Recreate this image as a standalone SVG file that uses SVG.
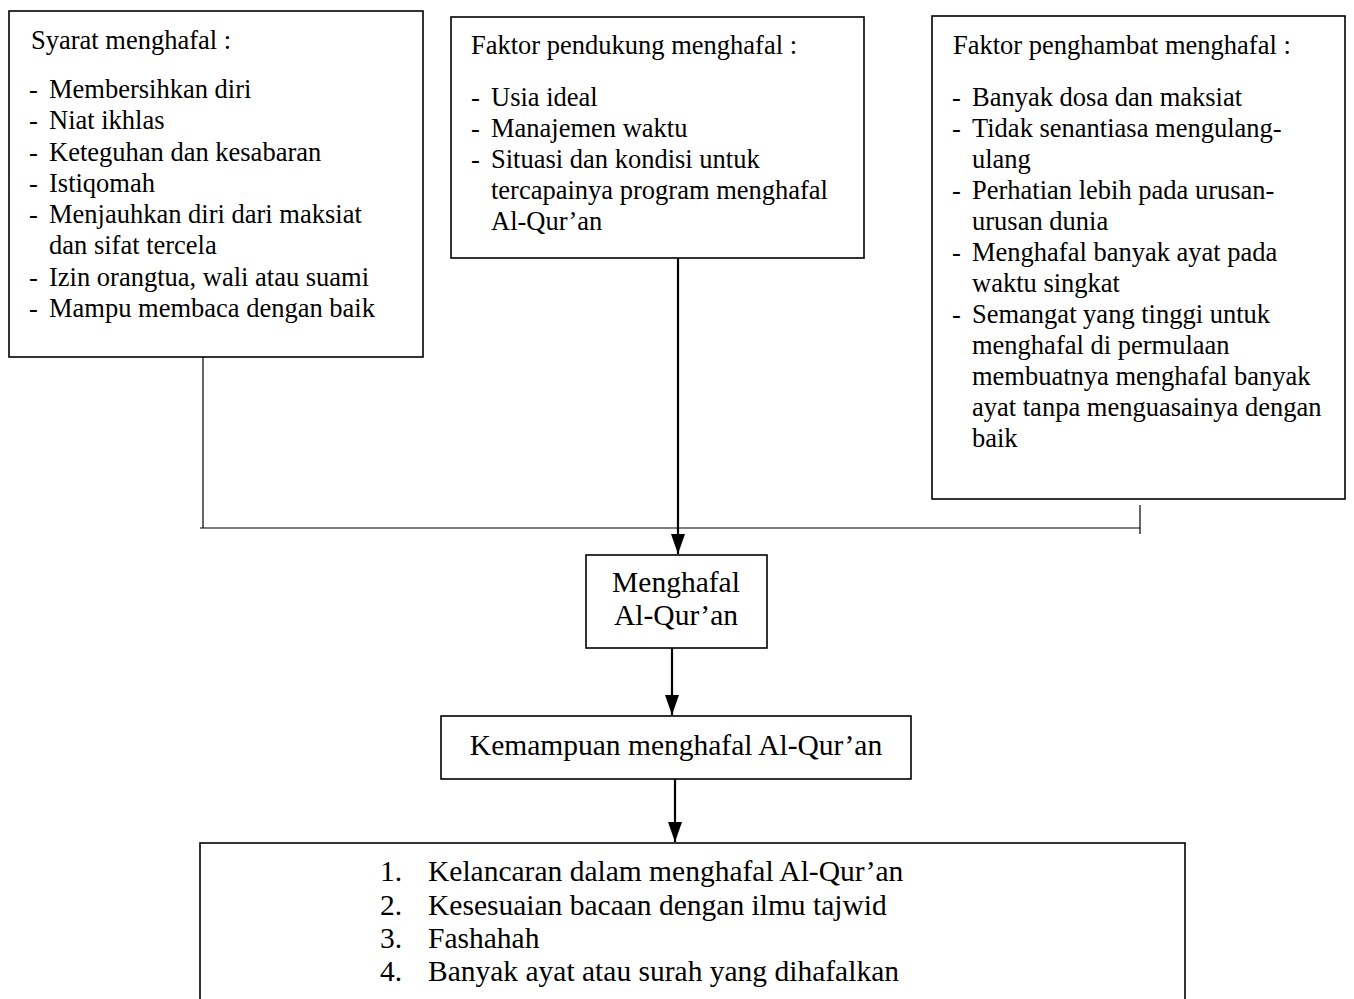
<svg xmlns="http://www.w3.org/2000/svg" width="1354" height="999" viewBox="0 0 1354 999">
<defs>
<style>
.box{fill:#fff;stroke:#000;stroke-width:1.6}
.t{font-family:"Liberation Serif","Times New Roman",serif;font-size:26.5px;fill:#000}
.tb{font-family:"Liberation Serif","Times New Roman",serif;font-size:29.5px;fill:#000}
.thin{stroke:#000;stroke-width:1.2;fill:none}
.arr{stroke:#000;stroke-width:2.2;fill:none}
</style>
<marker id="ah2" viewBox="0 0 20 14" refX="20" refY="7" markerWidth="20" markerHeight="14" orient="auto" markerUnits="userSpaceOnUse">
<path d="M0,0 L20,7 L0,14 Z" fill="#000"/>
</marker>
</defs>
<rect width="1354" height="999" fill="#fff"/>

<g id="syarat">
<rect class="box" x="9" y="11" width="414" height="346"/>
<text class="t" x="31" y="49">Syarat menghafal :</text>
<text class="t" x="29" y="98">-</text><text class="t" x="49" y="98">Membersihkan diri</text>
<text class="t" x="29" y="129">-</text><text class="t" x="49" y="129">Niat ikhlas</text>
<text class="t" x="29" y="161">-</text><text class="t" x="49" y="161">Keteguhan dan kesabaran</text>
<text class="t" x="29" y="192">-</text><text class="t" x="49" y="192">Istiqomah</text>
<text class="t" x="29" y="223">-</text><text class="t" x="49" y="223">Menjauhkan diri dari maksiat</text>
<text class="t" x="49" y="254">dan sifat tercela</text>
<text class="t" x="29" y="286">-</text><text class="t" x="49" y="286">Izin orangtua, wali atau suami</text>
<text class="t" x="29" y="317">-</text><text class="t" x="49" y="317">Mampu membaca dengan baik</text>
</g>

<g id="pendukung">
<rect class="box" x="451" y="17" width="413" height="241"/>
<text class="t" x="471" y="54">Faktor pendukung menghafal :</text>
<text class="t" x="471" y="106">-</text><text class="t" x="491" y="106">Usia ideal</text>
<text class="t" x="471" y="137">-</text><text class="t" x="491" y="137">Manajemen waktu</text>
<text class="t" x="471" y="168">-</text><text class="t" x="491" y="168">Situasi dan kondisi untuk</text>
<text class="t" x="491" y="199">tercapainya program menghafal</text>
<text class="t" x="491" y="230">Al-Qur’an</text>
</g>

<g id="penghambat">
<rect class="box" x="932" y="16" width="413" height="483"/>
<text class="t" x="953" y="54">Faktor penghambat menghafal :</text>
<text class="t" x="952" y="106">-</text><text class="t" x="972" y="106">Banyak dosa dan maksiat</text>
<text class="t" x="952" y="137">-</text><text class="t" x="972" y="137">Tidak senantiasa mengulang-</text>
<text class="t" x="972" y="168">ulang</text>
<text class="t" x="952" y="199">-</text><text class="t" x="972" y="199">Perhatian lebih pada urusan-</text>
<text class="t" x="972" y="230">urusan dunia</text>
<text class="t" x="952" y="261">-</text><text class="t" x="972" y="261">Menghafal banyak ayat pada</text>
<text class="t" x="972" y="292">waktu singkat</text>
<text class="t" x="952" y="323">-</text><text class="t" x="972" y="323">Semangat yang tinggi untuk</text>
<text class="t" x="972" y="354">menghafal di permulaan</text>
<text class="t" x="972" y="385">membuatnya menghafal banyak</text>
<text class="t" x="972" y="416">ayat tanpa menguasainya dengan</text>
<text class="t" x="972" y="447">baik</text>
</g>

<g id="menghafal">
<rect class="box" x="586" y="555" width="181" height="93"/>
<text class="tb" x="676" y="592" text-anchor="middle">Menghafal</text>
<text class="tb" x="676" y="625" text-anchor="middle">Al-Qur’an</text>
</g>

<g id="kemampuan">
<rect class="box" x="441" y="716" width="470" height="63"/>
<text class="tb" x="676" y="755" text-anchor="middle">Kemampuan menghafal Al-Qur’an</text>
</g>

<g id="indikator">
<rect class="box" x="200" y="843" width="985" height="170"/>
<text class="tb" x="380" y="881">1.</text><text class="tb" x="428" y="881">Kelancaran dalam menghafal Al-Qur’an</text>
<text class="tb" x="380" y="915">2.</text><text class="tb" x="428" y="915">Kesesuaian bacaan dengan ilmu tajwid</text>
<text class="tb" x="380" y="948">3.</text><text class="tb" x="428" y="948">Fashahah</text>
<text class="tb" x="380" y="981">4.</text><text class="tb" x="428" y="981">Banyak ayat atau surah yang dihafalkan</text>
</g>

<g id="connectors">
<path class="thin" d="M203,357 V528"/>
<path class="thin" d="M200,528 H1140"/>
<path class="thin" d="M1140,505 V534"/>
<path class="arr" d="M678,258 V554" marker-end="url(#ah2)"/>
<path class="arr" d="M672,648 V715" marker-end="url(#ah2)"/>
<path class="arr" d="M675,779 V842" marker-end="url(#ah2)"/>
</g>
</svg>
